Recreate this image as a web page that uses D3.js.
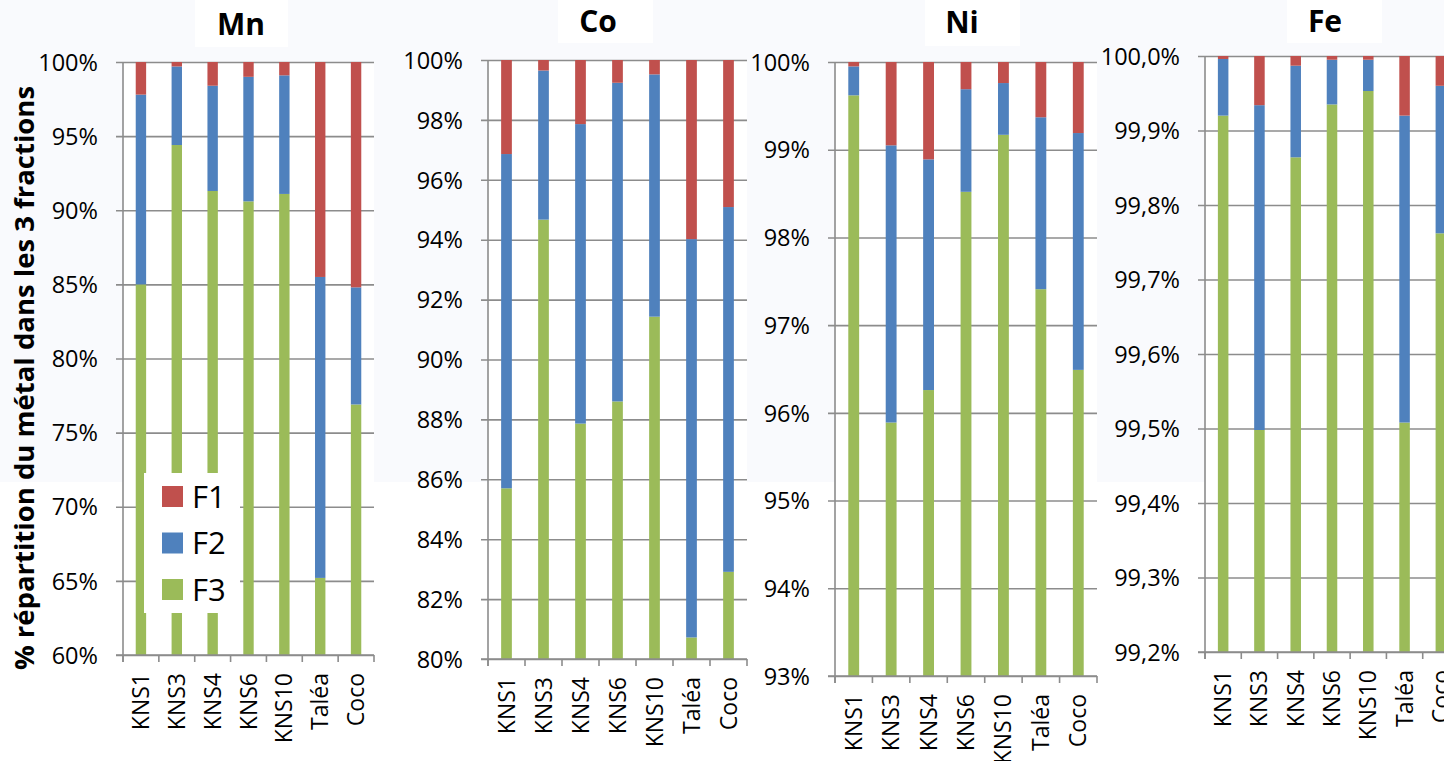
<!DOCTYPE html>
<html>
<head>
<meta charset="utf-8">
<script src="https://cdn.jsdelivr.net/npm/d3@7"></script>
<style>
  html, body { margin: 0; padding: 0; background: #f9fafd; overflow: hidden; }
  svg { display: block; }
  text { font-family: "Open Sans", "Noto Sans", sans-serif; fill: #000; }
</style>
</head>
<body>
<svg id="chart" width="1444" height="761"></svg>
<script>
// ---------------- DATA ----------------
const categories = ["KNS1", "KNS3", "KNS4", "KNS6", "KNS10", "Taléa", "Coco"];
const fractions = ["F1", "F2", "F3"];
const fractionColors = ["#c0504d", "#4f81bd", "#9bbb59"];

// % of metal in each fraction (F3 = residual bottom, F2 middle, F1 top)
const mnF3 = [85.0, 94.4, 91.3, 90.6, 91.1, 65.2, 76.9];
const mnF2 = [12.8, 5.3, 7.1, 8.4, 8.0, 20.3, 7.9];
const mnF1 = [2.2, 0.3, 1.6, 1.0, 0.9, 14.5, 15.2];

const coF3 = [85.70, 94.67, 87.86, 88.60, 91.43, 80.72, 82.91];
const coF2 = [11.16, 4.98, 10.00, 10.64, 8.09, 13.30, 12.18];
const coF1 = [3.14, 0.35, 2.14, 0.76, 0.48, 5.98, 4.91];

const niF3 = [99.62, 95.89, 96.26, 98.52, 99.17, 97.41, 96.49];
const niF2 = [0.33, 3.16, 2.63, 1.17, 0.59, 1.96, 2.70];
const niF1 = [0.05, 0.95, 1.11, 0.31, 0.24, 0.63, 0.81];

const feF3 = [99.920, 99.498, 99.864, 99.935, 99.953, 99.508, 99.762];
const feF2 = [0.076, 0.436, 0.123, 0.060, 0.042, 0.412, 0.198];
const feF1 = [0.004, 0.066, 0.013, 0.005, 0.005, 0.080, 0.040];

const mnTicks = [60, 65, 70, 75, 80, 85, 90, 95, 100];
const coTicks = [80, 82, 84, 86, 88, 90, 92, 94, 96, 98, 100];
const niTicks = [93, 94, 95, 96, 97, 98, 99, 100];
const feTicks = [99.2, 99.3, 99.4, 99.5, 99.6, 99.7, 99.8, 99.9, 100.0];

const panelTitles = ["Mn", "Co", "Ni", "Fe"];
const yAxisTitle = "% répartition du métal dans les 3 fractions";

// ---------------- LAYOUT ----------------
const svg = d3.select("#chart");

// lower white area
svg.append("rect").attr("x", 0).attr("y", 482).attr("width", 1444).attr("height", 279).attr("fill", "#ffffff");

const panels = [
  { title: panelTitles[0], F1: mnF1, F2: mnF2, F3: mnF3, ticks: mnTicks, dec: 0,
    left: 123, right: 374, top: 62, bottom: 655,
    tbox: [195, 288, 47], tx: 241, ty: 35 },
  { title: panelTitles[1], F1: coF1, F2: coF2, F3: coF3, ticks: coTicks, dec: 0,
    left: 488, right: 747, top: 60, bottom: 659,
    tbox: [558, 653, 43], tx: 598, ty: 32 },
  { title: panelTitles[2], F1: niF1, F2: niF2, F3: niF3, ticks: niTicks, dec: 0,
    left: 835, right: 1097, top: 62, bottom: 676,
    tbox: [925, 1020, 46], tx: 962, ty: 33 },
  { title: panelTitles[3], F1: feF1, F2: feF2, F3: feF3, ticks: feTicks, dec: 1,
    left: 1205, right: 1459, top: 56, bottom: 652,
    tbox: [1287, 1382, 43], tx: 1325, ty: 32 }
];

const gridColor = "#8c8c8c";

panels.forEach(p => {
  const g = svg.append("g");
  const rows = categories.map((c, i) => ({ cat: c, F1: p.F1[i], F2: p.F2[i], F3: p.F3[i] }));

  const x = d3.scaleBand().domain(categories).range([p.left, p.right])
    .paddingInner(0.71).paddingOuter(0.355);
  const y = d3.scaleLinear().domain([p.ticks[0], p.ticks[p.ticks.length - 1]])
    .range([p.bottom, p.top]).clamp(true);

  // plot background
  g.append("rect").attr("x", p.left).attr("y", p.top)
    .attr("width", p.right - p.left).attr("height", p.bottom - p.top).attr("fill", "#ffffff");

  // gridlines + y ticks
  const fmt = v => (p.dec ? v.toFixed(p.dec).replace(".", ",") : d3.format("d")(v)) + "%";
  const yAxis = d3.axisLeft(y).tickValues(p.ticks).tickSize(-(p.right - p.left)).tickFormat(fmt).tickPadding(0);
  const ya = g.append("g").attr("transform", `translate(${p.left},0)`).call(yAxis);
  ya.select(".domain").remove();
  ya.selectAll(".tick line").attr("x1", -7).attr("stroke", gridColor).attr("stroke-width", 1.6);
  ya.selectAll(".tick text").attr("x", -25).attr("dy", "0.35em")
    .style("font-size", "23.5px").style("font-family", '"Open Sans", sans-serif').attr("fill", "#000");

  // bars
  const stack = d3.stack().keys(["F3", "F2", "F1"]);
  const series = stack(rows);
  series.forEach(s => {
    const color = fractionColors[fractions.indexOf(s.key)];
    g.append("g").selectAll("rect").data(s).join("rect")
      .attr("x", d => x(d.data.cat))
      .attr("width", x.bandwidth())
      .attr("y", d => y(d[1]))
      .attr("height", d => Math.max(0, y(d[0]) - y(d[1])))
      .attr("fill", color);
  });

  // y axis line
  g.append("line").attr("x1", p.left).attr("x2", p.left).attr("y1", p.top).attr("y2", p.bottom + 7)
    .attr("stroke", gridColor).attr("stroke-width", 1.6);
  // x axis line
  g.append("line").attr("x1", p.left - 7).attr("x2", p.right).attr("y1", p.bottom).attr("y2", p.bottom)
    .attr("stroke", gridColor).attr("stroke-width", 1.6);
  // x ticks at band boundaries
  const step = x.step();
  const bounds = d3.range(categories.length + 1).map(i => p.left + i * step);
  g.append("g").selectAll("line").data(bounds).join("line")
    .attr("x1", d => d).attr("x2", d => d).attr("y1", p.bottom).attr("y2", p.bottom + 7)
    .attr("stroke", gridColor).attr("stroke-width", 1.6);

  // x labels (rotated)
  g.append("g").selectAll("text").data(categories).join("text")
    .attr("transform", d => `translate(${x(d) + x.bandwidth() / 2},${p.bottom + 18}) rotate(-90)`)
    .attr("text-anchor", "end").attr("dy", "0.35em")
    .style("font-size", "23px").text(d => d);

  // title box
  svg.append("rect").attr("x", p.tbox[0]).attr("y", 0).attr("width", p.tbox[1] - p.tbox[0]).attr("height", p.tbox[2])
    .attr("fill", "#ffffff");
  svg.append("text").attr("x", p.tx).attr("y", p.ty).attr("text-anchor", "middle")
    .style("font-size", "30px").style("font-weight", "bold").text(p.title);
});

// Y axis title
svg.append("text").attr("transform", "translate(34,378) rotate(-90)")
  .attr("text-anchor", "middle").style("font-size", "27.5px").style("font-weight", "bold")
  .text(yAxisTitle);

// Legend inside Mn panel
const lg = svg.append("g");
lg.append("rect").attr("x", 144).attr("y", 473).attr("width", 96).attr("height", 140).attr("fill", "#ffffff");
fractions.forEach((f, i) => {
  lg.append("rect").attr("x", 162).attr("y", 486 + i * 46.5).attr("width", 21).attr("height", 21)
    .attr("fill", fractionColors[i]);
  lg.append("text").attr("x", 192).attr("y", 496.5 + i * 46.5).attr("dy", "0.36em")
    .style("font-size", "31px").text(f);
});
</script>
</body>
</html>
